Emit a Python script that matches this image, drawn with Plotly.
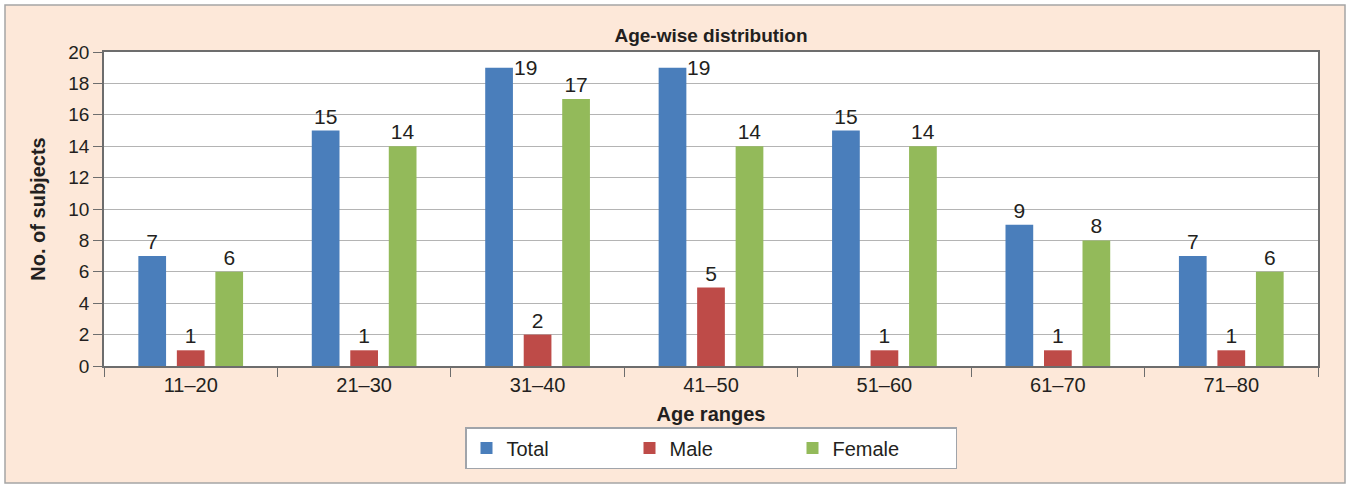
import plotly.graph_objects as go

categories = ["11–20", "21–30", "31–40", "41–50", "51–60", "61–70", "71–80"]
total = [7, 15, 19, 19, 15, 9, 7]
male = [1, 1, 2, 5, 1, 1, 1]
female = [6, 14, 17, 14, 14, 8, 6]
y_ticks = [0, 2, 4, 6, 8, 10, 12, 14, 16, 18, 20]

W, H = 1348, 485
ML, MR, MT, MB = 104, 30, 52, 119
PW, PH = W - ML - MR, H - MT - MB

FONT = "Liberation Sans, Arial, sans-serif"
TXT = "#231F20"
colors = {"Total": "#4A7EBB", "Male": "#BE4B48", "Female": "#93BA5A"}

fig = go.Figure()
series = [("Total", total), ("Male", male), ("Female", female)]
for name, vals in series:
    txt = [str(v) if not (name == "Total" and v >= 19) else "" for v in vals]
    fig.add_trace(go.Bar(
        x=categories, y=vals, name=name, marker_color=colors[name],
        marker_line_width=0,
        text=txt, textposition="outside", cliponaxis=False,
        constraintext="none",
        textfont=dict(family=FONT, size=21, color=TXT),
    ))

# labels for tallest bars placed beside the bar top (as in original)
slot = PW / len(categories) * (1 - 0.334) / 3
for c, v in zip(categories, total):
    if v >= 19:
        fig.add_annotation(x=c, y=v, xref="x", yref="y", text=str(v),
                           showarrow=False, xanchor="left", yanchor="middle",
                           xshift=-slot + slot * 0.72 / 2 - 1,
                           font=dict(family=FONT, size=21, color=TXT))

def px_x(p):
    return (p - ML) / PW

def px_y(p):
    return (H - MB - p) / PH

# outer peach panel with border, then white plot area
fig.add_shape(type="rect", xref="paper", yref="paper",
              x0=px_x(5), x1=px_x(1345), y0=px_y(483), y1=px_y(5),
              fillcolor="#FDE8D9", line=dict(color="#A5A5A5", width=1.5),
              layer="below")
fig.add_shape(type="rect", xref="paper", yref="paper",
              x0=0, x1=1, y0=0, y1=1,
              fillcolor="white", line=dict(width=0), layer="below")

fig.update_layout(
    width=W, height=H,
    margin=dict(l=ML, r=MR, t=MT, b=MB, autoexpand=False),
    paper_bgcolor="white", plot_bgcolor="white",
    barmode="group", bargap=0.334, bargroupgap=0.28,
    font=dict(family=FONT, color=TXT),
    title=dict(text="<b>Age-wise distribution</b>", x=0.5, xref="paper",
               xanchor="center", y=1 - 35 / H, yref="container",
               yanchor="middle", font=dict(family=FONT, size=19, color=TXT)),
    xaxis=dict(
        type="category", tickson="boundaries", ticks="outside", ticklen=9,
        tickcolor="#6d6d6d", showline=True, linecolor="#6d6d6d", linewidth=1.5,
        mirror=True, showgrid=False,
        tickfont=dict(family=FONT, size=20, color=TXT),
        title=dict(text="<b>Age ranges</b>", standoff=12,
                   font=dict(family=FONT, size=20, color=TXT)),
    ),
    yaxis=dict(
        range=[0, 20], tickvals=y_ticks, ticks="outside", ticklen=9,
        tickcolor="#6d6d6d", showline=True, linecolor="#6d6d6d", linewidth=1.5,
        mirror=True, showgrid=True, gridcolor="#B4B4B4", gridwidth=1,
        zeroline=False,
        tickfont=dict(family=FONT, size=19, color=TXT),
        title=dict(text="<b>No. of subjects</b>", standoff=17,
                   font=dict(family=FONT, size=20, color=TXT)),
    ),
    legend=dict(
        orientation="h", x=0.5, xanchor="center", y=px_y(448),
        yanchor="middle", bgcolor="white", bordercolor="#A0A4AA",
        borderwidth=1.5, entrywidth=118, entrywidthmode="pixels",
        font=dict(family=FONT, size=20, color=TXT), traceorder="normal",
    ),
    showlegend=True,
)

fig.write_html("out.html", config={"displayModeBar": False},
               post_script="document.body.style.margin='0px';")
